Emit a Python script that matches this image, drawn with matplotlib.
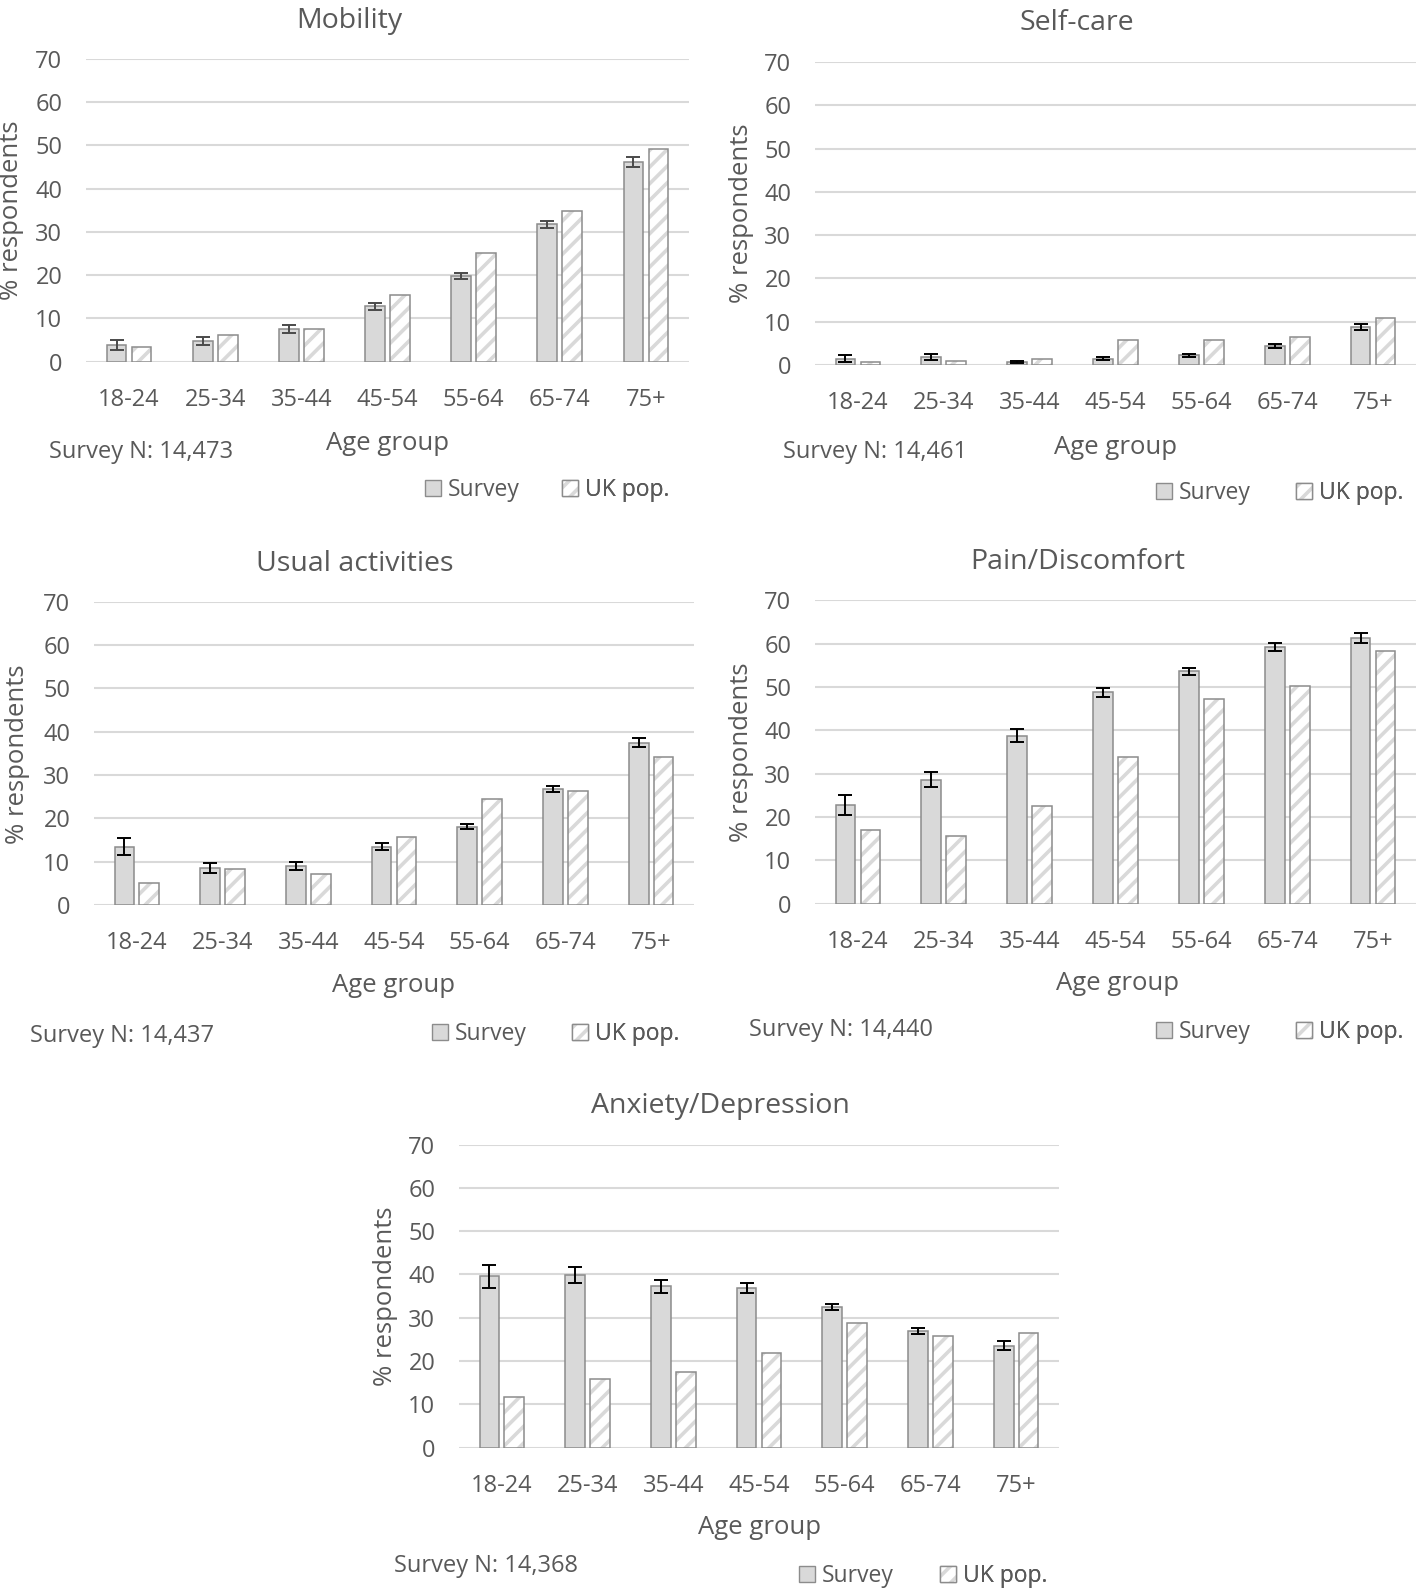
import numpy as np
import matplotlib.pyplot as plt
from matplotlib.patches import Patch

W, H = 1424, 1588
TEXT = '#595959'
GRID = '#d9d9d9'
EDGE = '#8c8c8c'

ages = ['18-24', '25-34', '35-44', '45-54', '55-64', '65-74', '75+']

# values (% respondents)
mobility_survey = [3.9, 4.8, 7.5, 12.8, 19.9, 31.7, 46.2]
mobility_err = [1.1, 0.9, 0.9, 0.8, 0.7, 0.8, 1.15]
mobility_uk = [3.5, 6.2, 7.5, 15.3, 25.2, 34.8, 49.1]

selfcare_survey = [1.5, 1.8, 0.7, 1.5, 2.2, 4.4, 8.8]
selfcare_err = [0.7, 0.65, 0.3, 0.35, 0.35, 0.4, 0.65]
selfcare_uk = [0.7, 0.9, 1.5, 5.7, 5.8, 6.5, 10.8]

usual_survey = [13.5, 8.6, 9.0, 13.5, 18.1, 26.8, 37.5]
usual_err = [1.9, 1.1, 1.0, 0.75, 0.6, 0.7, 1.1]
usual_uk = [5.1, 8.2, 7.2, 15.6, 24.4, 26.2, 34.1]

pain_survey = [22.8, 28.6, 38.8, 48.8, 53.6, 59.2, 61.3]
pain_err = [2.3, 1.7, 1.5, 1.05, 0.8, 0.85, 1.05]
pain_uk = [17.1, 15.6, 22.5, 33.9, 47.2, 50.2, 58.2]

anxiety_survey = [39.6, 39.8, 37.3, 36.9, 32.6, 26.9, 23.6]
anxiety_err = [2.7, 1.85, 1.5, 1.1, 0.7, 0.7, 1.05]
anxiety_uk = [11.8, 15.8, 17.5, 21.9, 28.8, 25.7, 26.6]

sample_sizes = ['14,473', '14,461', '14,437', '14,440', '14,368']

plt.rcParams['font.family'] = ['Open Sans', 'DejaVu Sans']
plt.rcParams['hatch.linewidth'] = 2.6

fig = plt.figure(figsize=(W / 100, H / 100), dpi=100)


def fx(x):
    return x / W


def fy(y):
    return 1 - y / H


def draw_panel(title, survey, err, uk, n, box, title_xy, xlabel_xy, ylabel_xy, n_xy, leg, errcolor='black'):
    left, right, top, bottom = box
    ax = fig.add_axes([fx(left), fy(bottom), (right - left) / W, (bottom - top) / H])
    x = np.arange(len(ages))
    w = 0.23
    off = 0.145
    ax.bar(x - off, survey, w, color=GRID, edgecolor=EDGE, linewidth=1.1, zorder=3)
    # hatched UK bars: hatch layer first, then the outline on top
    ax.bar(x + off, uk, w, color='white', edgecolor=GRID, hatch='//', linewidth=0, zorder=3)
    ax.bar(x + off, uk, w, fill=False, edgecolor=EDGE, linewidth=1.1, zorder=4)
    ax.errorbar(x - off, survey, yerr=err, fmt='none', ecolor=errcolor,
                elinewidth=1.4, capsize=5, capthick=1.4, zorder=5)

    ax.set_xlim(-0.5, 6.5)
    ax.set_ylim(0, 70)
    ax.set_yticks(range(0, 71, 10))
    ax.set_xticks(x, ages)
    ax.grid(axis='y', color=GRID, linewidth=1.5)
    ax.set_axisbelow(True)
    for s in ax.spines.values():
        s.set_visible(False)
    ax.tick_params(length=0, labelsize=17, labelcolor=TEXT)
    ax.tick_params(axis='y', pad=17)
    ax.tick_params(axis='x', pad=19)

    fig.text(fx(title_xy[0]), fy(title_xy[1]), title, fontsize=20.5, color=TEXT, ha='center', va='center')
    fig.text(fx(xlabel_xy[0]), fy(xlabel_xy[1]), 'Age group', fontsize=18.5, color=TEXT, ha='center', va='center')
    fig.text(fx(ylabel_xy[0]), fy(ylabel_xy[1]), '% respondents', fontsize=18.5, color=TEXT,
             ha='center', va='center', rotation=90)
    fig.text(fx(n_xy[0]), fy(n_xy[1]), 'Survey N: ' + n, fontsize=17, color=TEXT, ha='left', va='center')

    survey_handle = Patch(facecolor=GRID, edgecolor=EDGE, linewidth=1.0)
    uk_handle = (Patch(facecolor='white', edgecolor=GRID, hatch='//', linewidth=0),
                 Patch(fill=False, edgecolor=EDGE, linewidth=1.0))
    for h, lab, lx in zip([survey_handle, uk_handle], ['Survey', 'UK pop.'], leg[:2]):
        lg = ax.legend([h], [lab], loc='center left', bbox_to_anchor=(fx(lx), fy(leg[2])),
                       bbox_transform=fig.transFigure, frameon=False, fontsize=16.5,
                       labelcolor=TEXT, handlelength=0.7, handleheight=0.7,
                       handletextpad=0.3, borderpad=0, borderaxespad=0)
        ax.add_artist(lg)
    return ax


draw_panel('Mobility', mobility_survey, mobility_err, mobility_uk, sample_sizes[0],
           box=(86, 689, 58.7, 361.7), title_xy=(349, 21), xlabel_xy=(387, 443),
           ylabel_xy=(12, 210), n_xy=(49, 452), leg=(425, 562, 490), errcolor='#4a4a4a')
draw_panel('Self-care', selfcare_survey, selfcare_err, selfcare_uk, sample_sizes[1],
           box=(815, 1416, 62, 365), title_xy=(1077, 23), xlabel_xy=(1116, 447),
           ylabel_xy=(742, 213), n_xy=(783, 452), leg=(1156, 1296, 493))
draw_panel('Usual activities', usual_survey, usual_err, usual_uk, sample_sizes[2],
           box=(94, 694, 601.7, 905), title_xy=(355, 564), xlabel_xy=(394, 986),
           ylabel_xy=(18, 754), n_xy=(30, 1036), leg=(432, 572, 1034))
draw_panel('Pain/Discomfort', pain_survey, pain_err, pain_uk, sample_sizes[3],
           box=(815, 1416, 600.3, 903.7), title_xy=(1078, 562), xlabel_xy=(1117, 984),
           ylabel_xy=(742, 752), n_xy=(749, 1030), leg=(1156, 1296, 1032))
draw_panel('Anxiety/Depression', anxiety_survey, anxiety_err, anxiety_uk, sample_sizes[4],
           box=(459, 1059, 1144.5, 1447.8), title_xy=(720, 1106), xlabel_xy=(760, 1528),
           ylabel_xy=(385, 1296), n_xy=(394, 1566), leg=(799, 940, 1576))

fig.savefig('out.png', dpi=100, facecolor='white')
